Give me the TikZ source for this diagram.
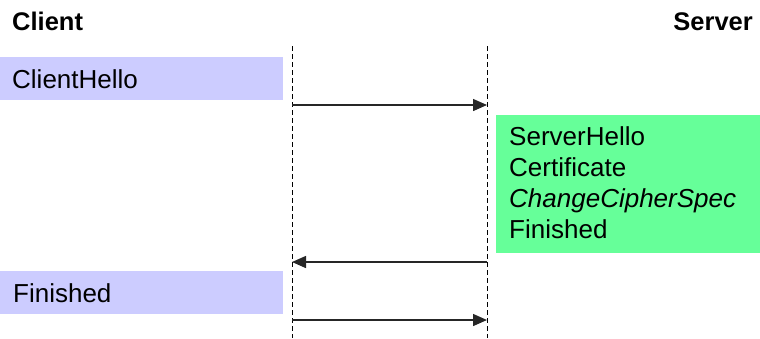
\documentclass[tikz,border=0pt]{standalone}
\usepackage{fontspec}
\setmainfont{Liberation Sans}
\usetikzlibrary{arrows.meta}
\definecolor{clientfill}{HTML}{CCCCFF}
\definecolor{serverfill}{HTML}{66FF99}
\tikzset{
  lbl/.style={font=\fontsize{26}{31}\selectfont, inner sep=0pt},
  head/.style={lbl, font=\fontsize{25.5}{31}\selectfont\bfseries},
  lifeline/.style={draw=black, line width=1pt, dash pattern=on 5pt off 3pt},
  msg/.style={draw=black!85, line width=1.4pt, -{Triangle[length=14pt,width=12pt]}},
}
\begin{document}
\begin{tikzpicture}[x=1pt,y=-1pt]
  \useasboundingbox (0,0) rectangle (760,338);

  % party headings
  \node[head, anchor=base west] (client) at (12,30) {Client};
  \node[head, anchor=base east] (server) at (753,30) {Server};

  % lifelines
  \coordinate (cTop) at (292,46);
  \coordinate (cBot) at (292,338);
  \coordinate (sTop) at (487,46);
  \coordinate (sBot) at (487,338);
  \draw[lifeline] (cTop) -- (cBot);
  \draw[lifeline] (sTop) -- (sBot);

  % message boxes
  \fill[clientfill] (0,57) rectangle (283,100);
  \node[lbl, anchor=base west] (hello) at (12,88) {ClientHello};

  \fill[serverfill] (496,115) rectangle (760,253);
  \node[lbl, anchor=north west, align=left] (reply) at (509,126)
    {ServerHello\\Certificate\\\textit{ChangeCipherSpec}\\Finished};

  \fill[clientfill] (0,271) rectangle (283,314);
  \node[lbl, anchor=base west] (fin) at (13,302) {Finished};

  % arrows between lifelines
  \coordinate (c1) at (292,105);
  \coordinate (s1) at (487,105);
  \coordinate (s2) at (487,262);
  \coordinate (c2) at (292,262);
  \coordinate (c3) at (292,320);
  \coordinate (s3) at (487,320);
  \draw[msg] (c1) -- (s1);
  \draw[msg] (s2) -- (c2);
  \draw[msg] (c3) -- (s3);
\end{tikzpicture}
\end{document}
